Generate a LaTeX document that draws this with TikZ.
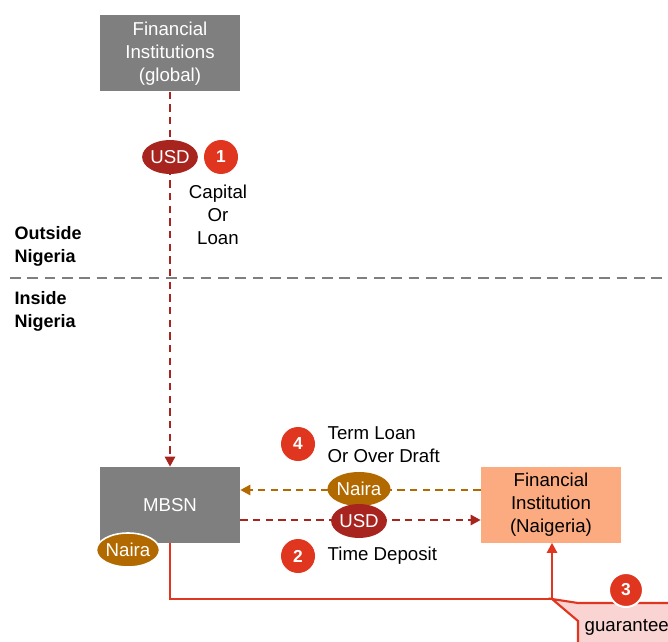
\documentclass[tikz,border=0pt]{standalone}
\usepackage{fontspec}
\setmainfont{Liberation Sans}
\usetikzlibrary{positioning, arrows.meta, calc, shapes.geometric}

\definecolor{boxgray}{HTML}{7F7F7F}
\definecolor{usdred}{HTML}{A8251F}
\definecolor{stepred}{HTML}{E0361F}
\definecolor{nairabrown}{HTML}{B26A00}
\definecolor{fipeach}{HTML}{FCAB80}
\definecolor{guarpink}{HTML}{F9D4D2}

\tikzset{
  entity/.style={rectangle, fill=boxgray, text=white, minimum width=105pt, minimum height=57pt, align=center, inner sep=0pt},
  localfi/.style={entity, fill=fipeach, text=black},
  usd/.style={ellipse, fill=usdred, text=white, minimum width=39pt, minimum height=25.5pt, inner sep=0pt},
  naira/.style={ellipse, fill=nairabrown, text=white, minimum width=39pt, minimum height=25.5pt, inner sep=0pt},
  stepno/.style={circle, fill=stepred, text=white, font=\fontsize{13}{15}\selectfont\bfseries, minimum size=25.5pt, inner sep=0pt},
  usdflow/.style={usdred, line width=2.1pt, dash pattern=on 5.5pt off 4pt},
  nairaflow/.style={nairabrown, line width=2.1pt, dash pattern=on 5.5pt off 4pt},
  region/.style={anchor=west, align=left, font=\fontsize{13.5}{17.2}\selectfont\bfseries},
}

\begin{document}
\begin{tikzpicture}[x=0.75pt, y=-0.75pt, font=\fontsize{14}{17.2}\selectfont, >={Triangle[length=7.5pt, width=7.5pt]}]
  \useasboundingbox (0,0) rectangle (668,642);

  % boxes
  \node[entity] (glob) at (170,53.5) {Financial\\Institutions\\(global)};
  \node[entity] (mbsn) at (170,505) {MBSN};
  \node[localfi] (fin) at (551,504.5) {Financial\\Institution\\(Naigeria)};

  % border line between the two regions
  \coordinate (lineL) at (10,278);
  \coordinate (lineR) at (668,278);
  \draw[boxgray, line width=2.2pt, dash pattern=on 8pt off 5pt] (lineL) -- (lineR);
  \node[region] (outside) at (10,246) {Outside\\Nigeria};
  \node[region] (inside) at (10,311) {Inside\\Nigeria};

  % step 1
  \draw[usdflow, ->] (glob.south) -- (mbsn.north);
  \node[usd] (usd1) at (170,157) {USD};
  \node[stepno] (s1) at (221,157) {1};
  \node[align=center] (capital) at (218,215) {Capital\\Or\\Loan};

  % steps 2 and 4
  \coordinate (nairaY) at (0,490);
  \coordinate (usdY) at (0,520);
  \draw[nairaflow, ->] (fin.west |- nairaY) -- (mbsn.east |- nairaY);
  \draw[usdflow, ->] (mbsn.east |- usdY) -- (fin.west |- usdY);
  \node[naira] (naira4) at (359,489) {Naira};
  \node[usd] (usd2) at (359,521) {USD};
  \node[stepno] (s4) at (298,444) {4};
  \node[anchor=west, align=left] (termloan) at (323,445) {Term Loan\\Or Over Draft};
  \node[stepno] (s2) at (298,556) {2};
  \node[anchor=west] (timedep) at (323,556) {Time Deposit};
  \node[naira, draw=white, line width=1.2pt] (nairaM) at (128,550) {Naira};

  % step 3
  \coordinate (guar) at (552,599);
  \draw[stepred, line width=1.6pt, ->] (mbsn.south) |- (guar) -- (fin.south -| guar);
  \draw[stepred, line width=1.6pt, fill=guarpink] (578,603) -- (690,603) -- (690,660) -- (578,660) -- (578,621) -- (guar) -- cycle;
  \node[anchor=west] (guartext) at (580,627) {guarantee};
  \node[stepno, draw=white, line width=1.5pt] (s3) at (626,590) {3};
\end{tikzpicture}
\end{document}
